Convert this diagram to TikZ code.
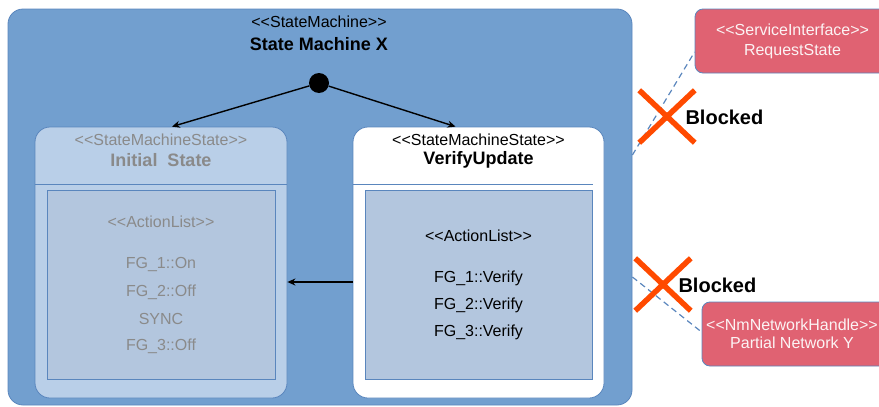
\documentclass[tikz,border=0pt]{standalone}
\usepackage{fontspec}
\setmainfont{Liberation Sans}
\usetikzlibrary{arrows.meta, positioning, shapes.misc}
\definecolor{smblue}{HTML}{729FCF}
\definecolor{smedge}{HTML}{5A86BD}
\definecolor{stlight}{HTML}{B9CFE8}
\definecolor{alfill}{HTML}{B3C6DE}
\definecolor{ifred}{HTML}{E06272}
\definecolor{xred}{HTML}{FF4A00}
\definecolor{txtgray}{HTML}{8A8A8A}
% stereotype brackets, kept apart so they are not joined into guillemets
\newcommand{\stereo}[1]{<{}<#1>{}>}

\begin{document}
\begin{tikzpicture}[
  x=1pt, y=-1pt,
  font=\fontsize{16}{19}\selectfont,
  box/.style={rectangle, draw=smedge, line width=0.8pt, inner sep=0pt, rounded corners=15pt},
  smbox/.style={box, fill=smblue, minimum width=624, minimum height=396},
  stbox/.style={box, minimum width=252, minimum height=271},
  albox/.style={rectangle, draw=smedge, line width=0.8pt, fill=alfill, inner sep=0pt,
                minimum width=228, minimum height=189},
  ifbox/.style={box, fill=ifred, rounded corners=8pt, text=white!92!ifred,
                align=center, minimum height=64},
  head/.style={font=\fontsize{18}{21}\selectfont\bfseries},
  greyed/.style={text=txtgray},
  flow/.style={-{Stealth[length=8pt, width=7pt]}, line width=1.4pt},
  link/.style={dash pattern=on 6pt off 4pt, draw=smedge, line width=1.2pt},
  xmark/.style={cross out, draw=xred, line width=5.5pt, inner sep=0pt,
                minimum width=50, minimum height=47},
  blk/.style={anchor=west, font=\fontsize{20}{24}\selectfont\bfseries},
]
\useasboundingbox (0,0) rectangle (879,407);
\clip (0,0) rectangle (879,407);

% State machine frame
\node[smbox] (sm) at (320,207) {};
\node (smst) at (319,22) {\stereo{StateMachine}};
\node[head] (smname) at (319,44) {State Machine X};
\node[circle, fill=black, minimum size=20, inner sep=0pt] (init) at (319,83) {};

% States
\node[stbox, fill=stlight] (ini) at (161,262.5) {};
\node[stbox, fill=white, minimum width=251] (ver) at (478.5,262.5) {};
\draw[smedge, line width=0.8pt] (ini.west |- 0,184) -- (ini.east |- 0,184);
\draw[smedge, line width=0.8pt] (ver.west |- 0,184) -- ([xshift=-11pt]ver.east |- 0,184);
\node[albox] (inial) at (161,284.5) {};
\node[albox, minimum width=227] (veral) at (478.5,284.5) {};

\node[greyed] (inist) at (161,140) {\stereo{StateMachineState}};
\node[head, greyed] (ininame) at (161,160) {Initial\ \ State};
\node[greyed] (inialst) at (161,222) {\stereo{ActionList}};
\foreach \y/\txt [count=\i] in {265/FG\_1::On, 292/FG\_2::Off, 319/SYNC, 346/FG\_3::Off}
  \node[greyed] (iniact\i) at (161,\y) {\txt};

\node (verst) at (478.5,140) {\stereo{StateMachineState}};
\node[head] (vername) at (478.5,160) {VerifyUpdate};
\node (veralst) at (478.5,236) {\stereo{ActionList}};
\foreach \y/\txt [count=\i] in {278/FG\_1::Verify, 305/FG\_2::Verify, 332/FG\_3::Verify}
  \node (veract\i) at (478.5,\y) {\txt};

% Transitions
\draw[flow] (init) -- ([xshift=11pt]ini.north);
\draw[flow] (init) -- ([xshift=-23pt]ver.north);
\draw[flow] (ver.west |- 0,282) -- (ini.east |- 0,282);

% Blocked interfaces
\node[ifbox, minimum width=195] (rq) at (792.5,41) {\stereo{ServiceInterface}\\[1pt]RequestState};
\node[ifbox, minimum width=188] (pn) at (796,334) {};
\node[text=white!92!ifred, align=center] (pntxt) at (792,334) {\stereo{NmNetworkHandle}\\[-1pt]Partial Network Y};
\draw[link] (sm.east |- 0,155) -- (rq.west |- 0,52);
\draw[link] (sm.east |- 0,277) -- (pn.west |- 0,332);

\node[xmark] (x1) at (667,116.5) {};
\node[blk] (b1) at (682,117) {Blocked};
\node[xmark] (x2) at (663,284.5) {};
\node[blk] (b2) at (675,285) {Blocked};
\end{tikzpicture}
\end{document}
